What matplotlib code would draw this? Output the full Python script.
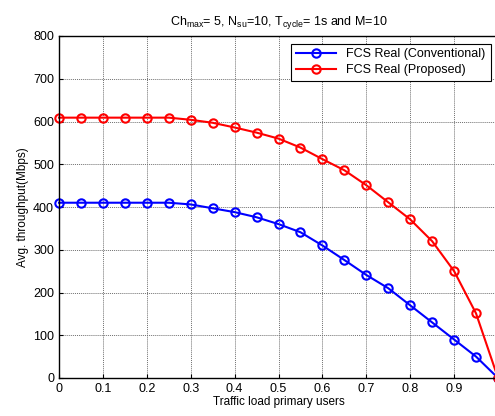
import matplotlib
matplotlib.use("Agg")
import matplotlib.pyplot as plt

plt.rcParams['font.family'] = ['Liberation Sans', 'DejaVu Sans']

traffic_load = [0.0, 0.05, 0.1, 0.15, 0.2, 0.25, 0.3, 0.35, 0.4, 0.45, 0.5,
                0.55, 0.6, 0.65, 0.7, 0.75, 0.8, 0.85, 0.9, 0.95, 1.0]
conventional = [410, 410, 410, 410, 410, 410, 406, 397, 388, 376, 360,
                341, 310, 276, 241, 210, 170, 130, 90, 50, 0]
proposed = [609, 609, 609, 609, 609, 609, 604, 597, 586, 574, 560,
            539, 512, 486, 451, 411, 371, 320, 250, 151, 0]

x_ticks = [0, 0.1, 0.2, 0.3, 0.4, 0.5, 0.6, 0.7, 0.8, 0.9]
x_tick_labels = ['0', '0.1', '0.2', '0.3', '0.4', '0.5', '0.6', '0.7', '0.8', '0.9']
y_ticks = [0, 100, 200, 300, 400, 500, 600, 700, 800]

fig = plt.figure(figsize=(4.95, 4.16), dpi=100)
ax = fig.add_axes([59 / 495, 1 - 378 / 416, 439 / 495, 342 / 416])

ax.plot(traffic_load, conventional, color='#0000ff', lw=1.5, marker='o',
        ms=6, mfc='none', mew=1.5, label='FCS Real (Conventional)', clip_on=False)
ax.plot(traffic_load, proposed, color='#ff0000', lw=1.5, marker='o',
        ms=6, mfc='none', mew=1.5, label='FCS Real (Proposed)', clip_on=False)

ax.set_xlim(0, 1)
ax.set_ylim(0, 800)
ax.set_xticks(x_ticks)
ax.set_xticklabels(x_tick_labels)
ax.set_yticks(y_ticks)
ax.tick_params(labelsize=9, direction='in', length=3, width=0.8, colors='black')
ax.grid(True, color='#707070', linestyle=(0, (1, 1)), linewidth=0.7)
for sp in ax.spines.values():
    sp.set_linewidth(1.0)

ax.set_xlabel('Traffic load primary users', fontsize=8.5, labelpad=1)
ax.set_ylabel('Avg. throughput(Mbps)', fontsize=8.5, labelpad=3)
ax.set_title(r'Ch$_{\mathregular{max}}$= 5, N$_{\mathregular{su}}$=10, T$_{\mathregular{cycle}}$= 1s and M=10',
             fontsize=9, pad=8)

leg = ax.legend(loc='upper right', fontsize=9, fancybox=False, framealpha=1,
                edgecolor='black', borderpad=0.4, handlelength=3.2,
                labelspacing=0.3, borderaxespad=0.6)
leg.get_frame().set_linewidth(0.8)

fig.savefig('out.png', dpi=100)
